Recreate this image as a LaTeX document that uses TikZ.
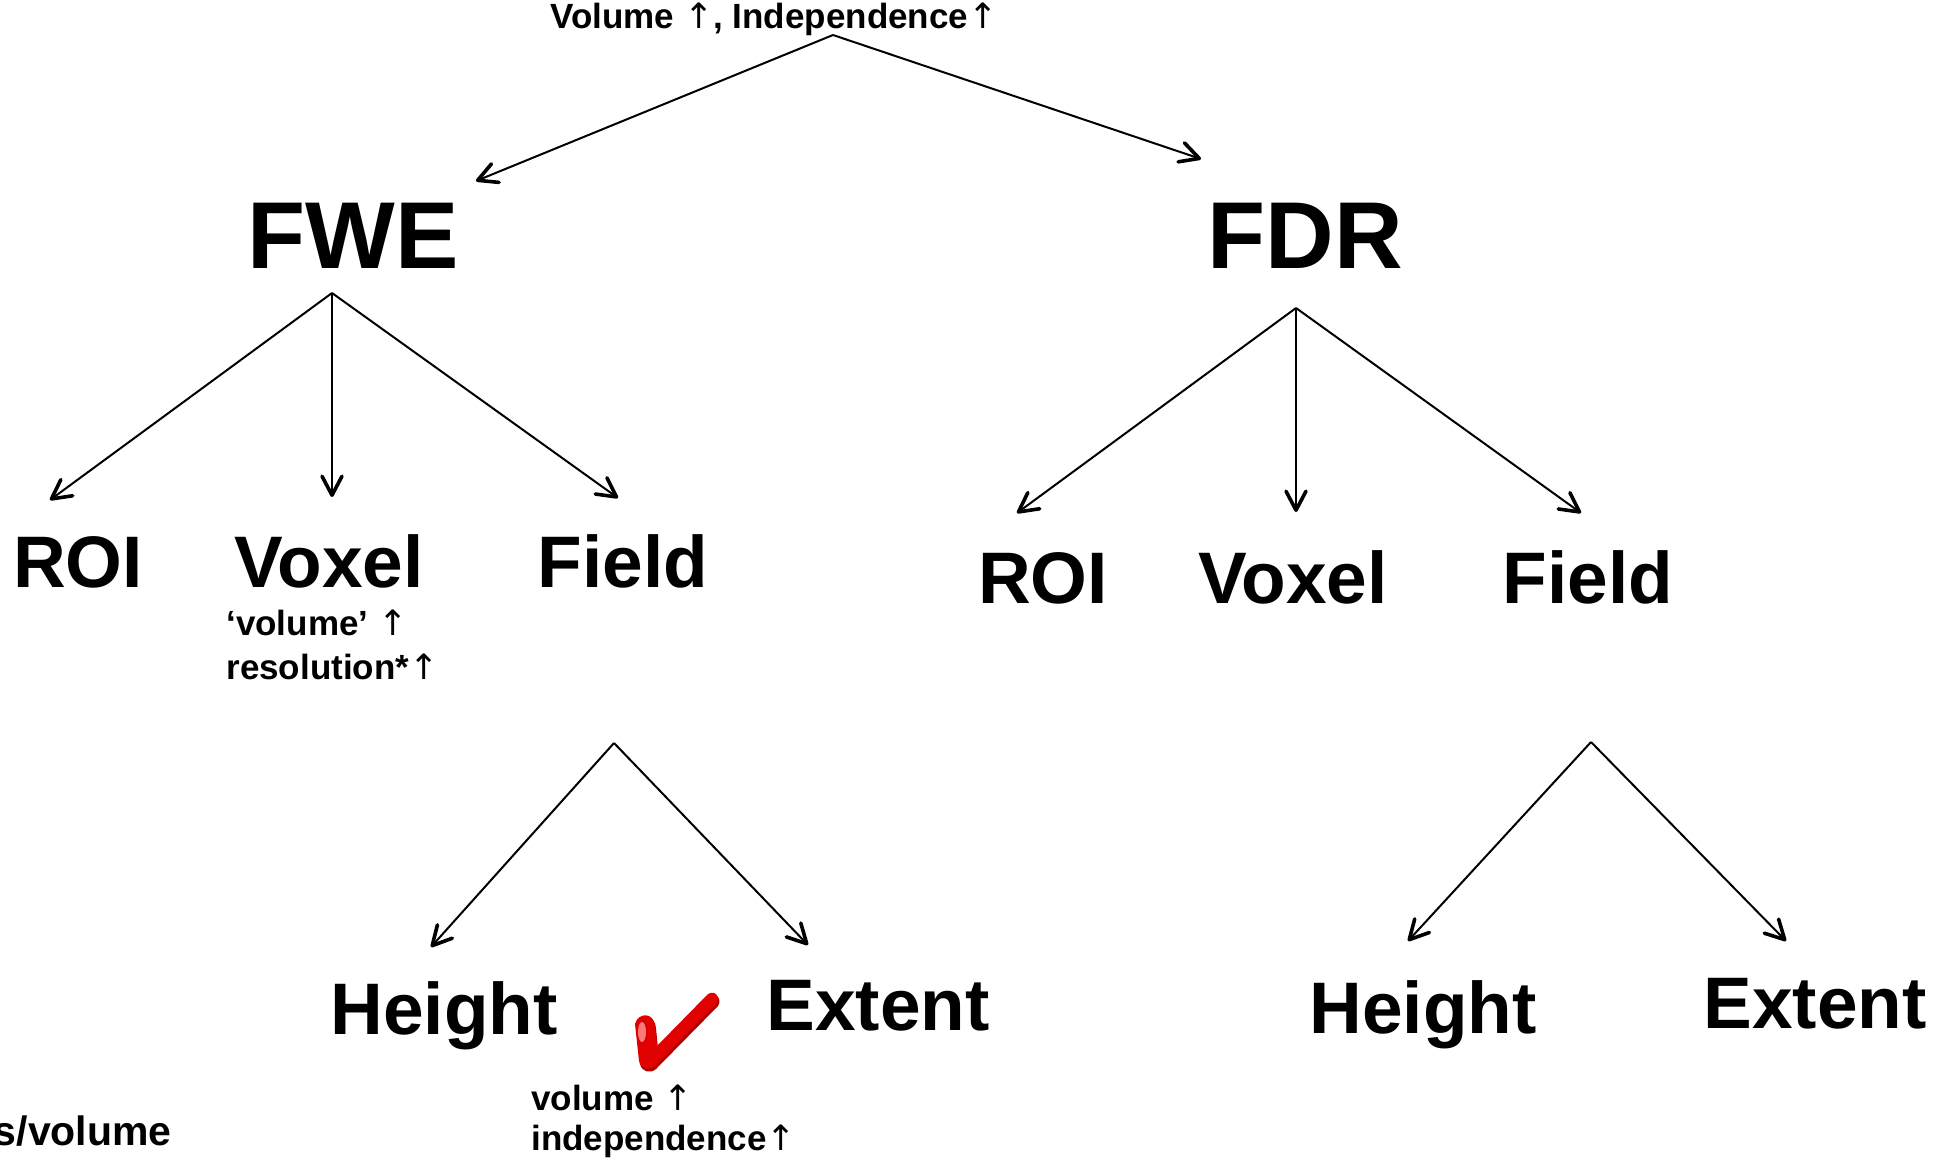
\documentclass[tikz,border=0pt]{standalone}
\usepackage{fontspec}
\setmainfont{Liberation Sans}
\newfontfamily\arrfont{DejaVu Sans}
\newcommand{\uparr}{{\arrfont\mdseries ↑}}
\usetikzlibrary{arrows.meta}
\begin{document}
\begin{tikzpicture}[x=0.5pt,y=-0.5pt,
  lbl/.style={inner sep=0pt,anchor=base,font=\bfseries},
  big/.style={lbl,font=\bfseries\fontsize{47.5}{50}\selectfont},
  mid/.style={lbl,font=\bfseries\fontsize{36.5}{40}\selectfont},
  small/.style={lbl,font=\bfseries\fontsize{17.5}{20}\selectfont},
  arr/.style={line width=1pt,-{Straight Barb[length=9.5pt,width=10pt,line width=1.8pt,round]}}]
\useasboundingbox (0,0) rectangle (1949,1157);
% labels
\node[small] (top) at (774,28) {Volume \uparr, Independence\uparr};
\node[big] (fwe) at (353,268) {FWE};
\node[big] (fdr) at (1305,268) {FDR};
\node[mid] (roiL) at (78,587) {ROI};
\node[mid] (voxL) at (329,587) {Voxel};
\node[mid] (fieldL) at (623,587) {Field};
\node[mid] (roiR) at (1043,603) {ROI};
\node[mid] (voxR) at (1293,603) {Voxel};
\node[mid] (fieldR) at (1588,603) {Field};
\node[small,anchor=base west] (vol1) at (226,635) {‘volume’ \uparr};
\node[small,anchor=base west] (res1) at (226,679) {resolution*\uparr};
\node[mid] (heightL) at (444,1034) {Height};
\node[mid] (extentL) at (878,1030) {Extent};
\node[mid] (heightR) at (1423,1033) {Height};
\node[mid] (extentR) at (1815,1028) {Extent};
\node[small,anchor=base west] (vol2) at (531,1110) {volume \uparr};
\node[small,anchor=base west] (ind2) at (531,1150) {independence\uparr};
\node[lbl,font=\bfseries\fontsize{20.5}{23}\selectfont,anchor=base east] (svol) at (172,1145) {s/volume};
% connector coordinates
\coordinate (topS) at (833,35);
\coordinate (fweT) at (476,181);
\coordinate (fdrT) at (1201,159);
\coordinate (fweS) at (332,293);
\coordinate (roiLT) at (50,500);
\coordinate (voxLT) at (332,497);
\coordinate (fieldLT) at (618,498);
\coordinate (fdrS) at (1296,308);
\coordinate (roiRT) at (1017,513);
\coordinate (voxRT) at (1296,512);
\coordinate (fieldRT) at (1581,513);
\coordinate (fieldLS) at (614,743);
\coordinate (heightLT) at (431,947);
\coordinate (extentLT) at (808,945);
\coordinate (fieldRS) at (1591,742);
\coordinate (heightRT) at (1408,941);
\coordinate (extentRT) at (1786,941);
% connectors
\draw[arr] (topS) -- (fweT);
\draw[arr] (topS) -- (fdrT);
\draw[arr] (fweS) -- (roiLT);
\draw[arr] (fweS) -- (voxLT);
\draw[arr] (fweS) -- (fieldLT);
\draw[arr] (fdrS) -- (roiRT);
\draw[arr] (fdrS) -- (voxRT);
\draw[arr] (fdrS) -- (fieldRT);
\draw[arr] (fieldLS) -- (heightLT);
\draw[arr] (fieldLS) -- (extentLT);
\draw[arr] (fieldRS) -- (heightRT);
\draw[arr] (fieldRS) -- (extentRT);
% check mark
\fill[red!70!black] (636,1026) .. controls (639,1014) and (655,1014) .. (656,1028) -- (658,1049) -- (708,997) .. controls (714,991) and (723,998) .. (718,1006) -- (656,1069) .. controls (650,1074) and (642,1072) .. (640,1064) -- cycle;
\fill[red!88!black] (635,1024) .. controls (638,1012) and (654,1012) .. (655,1026) -- (657,1046) -- (707,995) .. controls (713,989) and (722,996) .. (717,1003) -- (655,1066) .. controls (649,1071) and (641,1069) .. (639,1061) -- cycle;
\fill[red!40!white,opacity=0.8] (642,1032) ellipse [x radius=4, y radius=10];
\end{tikzpicture}
\end{document}
